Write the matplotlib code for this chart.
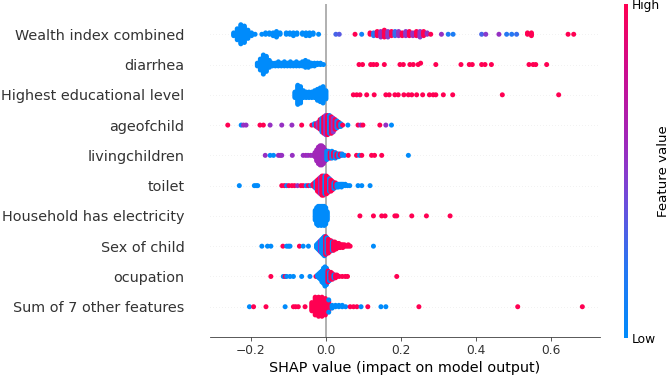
import numpy as np
import matplotlib
matplotlib.use("Agg")
import matplotlib.pyplot as plt
from matplotlib.colors import LinearSegmentedColormap

# feature names, top to bottom
features = ["Wealth index combined", "diarrhea", "Highest educational level",
            "ageofchild", "livingchildren", "toilet", "Household has electricity",
            "Sex of child", "ocupation", "Sum of 7 other features"]

# each feature: shap value, how many samples sit there, feature level (0 low .. 1 high)
wealth_shap = [-0.245, -0.2355, -0.226, -0.2165, -0.207, -0.1975, -0.188,
               -0.170, -0.160, -0.150, -0.140, -0.131, -0.1215,
               -0.105, -0.0955, -0.086, -0.0765,
               -0.062, -0.0525, -0.043, -0.0335, -0.019,
               0.027, 0.036, 0.078, 0.0957,
               0.118, 0.1275, 0.137, 0.1465, 0.156, 0.1655, 0.175, 0.1845, 0.194, 0.2035,
               0.213, 0.2225, 0.232, 0.2415, 0.251, 0.2605, 0.270, 0.2795,
               0.308, 0.326, 0.339, 0.415, 0.426, 0.461, 0.4815, 0.495, 0.508,
               0.537, 0.5475, 0.645, 0.660]
wealth_count = [3, 9, 15, 13, 7, 3, 1,
                1, 2, 2, 3, 5, 2,
                2, 2, 3, 2,
                2, 3, 3, 2, 1,
                1, 1, 1, 1,
                2, 3, 4, 5, 6, 5, 4, 4, 4, 3,
                4, 4, 3, 4, 5, 4, 2, 1,
                1, 1, 1, 1, 1, 1, 1, 1, 1,
                2, 3, 1, 1]
wealth_level = [0, 0, 0, 0, 0, 0, 0,
                0, 0, 0, 0, 0, 0,
                0, 0, 0, 0,
                0, 0, 0, 0, 0,
                0.3, 0.35, 1, 0.1,
                1, 0.2, 1, 0.55, 1, 0.5, 1, 0.25, 0.55, 1,
                0.5, 1, 0.55, 1, 0.5, 1, 0.55, 1,
                0.55, 0.15, 0.15, 0.3, 0.5, 0.55, 0.2, 0.2, 0.25,
                1, 1, 1, 1]

diarrhea_shap = [-0.182, -0.174, -0.166, -0.158, -0.150, -0.142, -0.134, -0.126,
                 -0.118, -0.110, -0.102, -0.094, -0.086, -0.078, -0.070, -0.062,
                 -0.054, -0.046, -0.038, -0.030, -0.022, -0.014, -0.006,
                 0.0886, 0.098, 0.1196, 0.127, 0.1356, 0.156, 0.1976, 0.2065,
                 0.224, 0.233, 0.246, 0.2526, 0.293, 0.36, 0.382, 0.39,
                 0.415, 0.424, 0.441, 0.541, 0.552, 0.559, 0.588]
diarrhea_count = [3, 9, 15, 12, 6, 3, 3, 4,
                  3, 4, 3, 4, 3, 4, 3, 4,
                  6, 5, 3, 3, 2, 2, 1] + [1] * 23
diarrhea_level = [0] * 23 + [1] * 23

educ_shap = [-0.082, -0.0745, -0.067, -0.0595, -0.052, -0.0445, -0.037, -0.0295,
             -0.022, -0.0145, -0.007, 0.0005,
             0.0735, 0.0824, 0.0912, 0.109, 0.129, 0.160, 0.169, 0.184, 0.193,
             0.208, 0.220, 0.229, 0.242, 0.258, 0.276, 0.286, 0.293, 0.313,
             0.338, 0.470, 0.620]
educ_count = [5, 15, 13, 6, 5, 5, 5, 6, 9, 11, 13, 7] + [1] * 21
educ_level = [0] * 12 + [1] * 21

age_shap = [-0.2607, -0.225, -0.219, -0.212, -0.175, -0.166, -0.148, -0.117,
            -0.090, -0.064, -0.037,
            -0.030, -0.025, -0.020, -0.015, -0.010, -0.005, 0.000, 0.005,
            0.010, 0.015, 0.020, 0.025, 0.030, 0.035, 0.040, 0.045,
            0.059, 0.086, 0.093, 0.099, 0.144, 0.160, 0.175]
age_count = [1] * 11 + [2, 3, 5, 8, 11, 13, 15, 15,
                        14, 13, 11, 8, 6, 4, 3, 1] + [1] * 7
age_level = [1, 0, 0.55, 0.55, 1, 1, 0.55, 0.55,
             0.55, 1, 1,
             0, 1, 0.5, 1, 0.1, 1, 0.5, 1,
             0.1, 1, 0.5, 1, 0.1, 1, 0, 1,
             0, 1, 0.55, 1, 1, 0.55, 0]

living_shap = [-0.161, -0.148, -0.139, -0.126, -0.121, -0.117, -0.089,
               -0.060, -0.053, -0.047, -0.040, -0.034,
               -0.0285, -0.024, -0.0195, -0.015, -0.0105, -0.006, -0.0015,
               0.003, 0.0075, 0.012, 0.0165, 0.021, 0.0255, 0.030, 0.0345,
               0.039, 0.0435, 0.050, 0.060,
               0.082, 0.090, 0.096, 0.122, 0.130, 0.149, 0.220]
living_count = [1] * 12 + [4, 9, 13, 15, 15, 13, 9,
                           7, 6, 5, 6, 4, 5, 3, 3, 2, 2, 1, 1] + [1] * 7
living_level = [0.55, 0, 0, 0.55, 0.6, 0.55, 0.55,
                0.55, 0.6, 0.55, 0.6, 0.55,
                0.6, 0.6, 0.6, 0.6, 0.6, 0.6, 0.6,
                0, 0.1, 1, 0, 1, 0, 1, 0,
                1, 0.1, 0, 1,
                1, 0, 1, 1, 1, 1, 0]

toilet_shap = [-0.230, -0.190, -0.185, -0.181,
               -0.117, -0.110, -0.104, -0.098, -0.090, -0.083, -0.075, -0.066,
               -0.060, -0.052, -0.046, -0.040,
               -0.034, -0.030, -0.026, -0.022, -0.018, -0.014, -0.010, -0.006,
               -0.002, 0.002, 0.006, 0.010, 0.014, 0.018, 0.022, 0.026, 0.030,
               0.034, 0.038, 0.042, 0.046, 0.052, 0.058, 0.064,
               0.086, 0.096, 0.118]
toilet_count = [1] * 16 + [2, 4, 6, 9, 11, 13, 15, 15,
                           14, 14, 12, 10, 9, 7, 5, 4, 3,
                           3, 2, 3, 2, 2, 1, 1] + [1] * 3
toilet_level = [0, 0, 0, 0,
                1, 1, 0, 1, 1, 1, 0.55, 1,
                1, 0, 1, 0,
                1, 1, 0, 1, 1, 0.55, 1, 1,
                0, 1, 1, 0.1, 1, 1, 0, 1, 0,
                0, 0, 0, 0, 0, 0, 0,
                0, 0, 0]

elec_shap = [-0.028, -0.024, -0.020, -0.016, -0.012, -0.008, -0.004, 0.000, 0.004,
             0.091, 0.127, 0.149, 0.158, 0.184, 0.189, 0.229, 0.268, 0.331]
elec_count = [8, 13, 15, 14, 15, 14, 15, 13, 7] + [1] * 9
elec_level = [0] * 9 + [1] * 9

sex_shap = [-0.170, -0.155, -0.146, -0.114, -0.104, -0.099, -0.095, -0.070,
            -0.060, -0.046,
            -0.0245, -0.021, -0.0175, -0.014, -0.0105, -0.007, -0.0035, 0.000,
            0.0035, 0.007, 0.0105, 0.014, 0.0175, 0.021, 0.0245, 0.028, 0.0315,
            0.035, 0.0385, 0.042, 0.0455, 0.050, 0.055, 0.060, 0.065,
            0.127]
sex_count = [1] * 10 + [3, 5, 7, 9, 11, 13, 15, 14,
                        12, 11, 9, 8, 7, 7, 6, 5, 4,
                        4, 3, 2, 3, 2, 1, 2, 1] + [1]
sex_level = [0, 0, 0, 1, 0, 0, 0, 1,
             0, 0,
             0, 0, 0, 0.55, 0, 0, 0, 1,
             0, 1, 1, 1, 0, 1, 1, 1, 1,
             1, 1, 1, 1, 1, 1, 1, 1,
             0]

occup_shap = [-0.146, -0.113, -0.108, -0.104, -0.095, -0.086, -0.064, -0.042,
              -0.026,
              -0.022, -0.018, -0.014, -0.010, -0.006, -0.002, 0.002, 0.006,
              0.010, 0.014, 0.018, 0.022, 0.026, 0.030, 0.036, 0.044, 0.052,
              0.058, 0.189]
occup_count = [1] * 9 + [2, 4, 6, 9, 12, 15, 13, 9,
                         7, 6, 5, 3, 3, 2, 1, 1, 1, 1] + [1]
occup_level = [1, 0, 1, 0, 0, 0, 0, 0,
               1,
               0, 0, 0, 0, 0, 0, 0, 1,
               0, 1, 1, 0, 1, 1, 1, 1, 1,
               1, 1]

other_shap = [-0.203, -0.192, -0.159, -0.108, -0.086, -0.080, -0.073, -0.055,
              -0.037, -0.028, -0.019, -0.010, -0.001, 0.008, 0.008,
              0.017, 0.026, 0.035, 0.044, 0.053,
              0.065, 0.074, 0.083, 0.094, 0.112, 0.147, 0.160,
              0.248, 0.511, 0.683]
other_count = [1] * 8 + [7, 14, 15, 15, 13, 8, 2,
                         3, 2, 2, 2, 1] + [1] * 10
other_level = [0, 1, 1, 0, 1, 1, 1, 1,
               1, 1, 1, 1, 1, 1, 0,
               0, 0, 0, 0, 0,
               1, 1, 1, 0, 1, 0, 0,
               1, 1, 1]

rows = [(wealth_shap, wealth_count, wealth_level),
        (diarrhea_shap, diarrhea_count, diarrhea_level),
        (educ_shap, educ_count, educ_level),
        (age_shap, age_count, age_level),
        (living_shap, living_count, living_level),
        (toilet_shap, toilet_count, toilet_level),
        (elec_shap, elec_count, elec_level),
        (sex_shap, sex_count, sex_level),
        (occup_shap, occup_count, occup_level),
        (other_shap, other_count, other_level)]

# shap style red-blue colormap (approx)
red_blue = LinearSegmentedColormap.from_list(
    "red_blue",
    [(0.0, "#008bfb"), (0.2, "#2478f3"), (0.4, "#6a4fdc"), (0.5, "#8a3acb"),
     (0.6, "#a126b8"), (0.8, "#cc0c8f"), (1.0, "#ff0052")])

axis_color = "#333333"
fs = 1.11  # text in the reference is a bit bigger than shap's 72dpi default


def swarm_offsets(vals, row_height=0.4, nbins=100):
    # same binning / layering that shap's beeswarm does
    vals = np.asarray(vals, dtype=float)
    quant = np.round(nbins * (vals - vals.min()) / (vals.max() - vals.min() + 1e-8))
    order = np.argsort(quant, kind="stable")
    ys = np.zeros(len(vals))
    layer = 0
    last_bin = -1
    for i in order:
        if quant[i] != last_bin:
            layer = 0
        ys[i] = np.ceil(layer / 2) * ((layer % 2) * 2 - 1)
        layer += 1
        last_bin = quant[i]
    ys *= 0.9 * (row_height / np.max(ys + 1))
    return ys


W, H = 669, 376
fig = plt.figure(figsize=(W / 72, H / 72), dpi=72)
ax = fig.add_axes([210 / W, 1 - 337 / H, 390 / W, 333 / H])

n = len(features)
ax.axvline(x=0, color="#999999", zorder=-1)

for i, (shap, cnt, lev) in enumerate(rows):
    pos = n - 1 - i
    ax.axhline(y=pos, color="#cccccc", lw=0.5, dashes=(1, 5), zorder=-1)
    vals = np.repeat(shap, cnt)
    levels = np.repeat(lev, cnt)
    ys = swarm_offsets(vals)
    ax.scatter(vals, pos + ys, c=levels, cmap=red_blue, vmin=0, vmax=1,
               s=25, linewidth=0, alpha=1, zorder=3)

ax.set_xlim(-0.308, 0.730)
ax.set_ylim(-1, n)
ax.set_yticks(range(n))
ax.set_yticklabels(features[::-1], fontsize=13 * fs)
ax.set_xticks([-0.2, 0.0, 0.2, 0.4, 0.6])
ax.xaxis.set_ticks_position("bottom")
ax.yaxis.set_ticks_position("none")
for s in ["right", "top", "left"]:
    ax.spines[s].set_visible(False)
ax.spines["bottom"].set_color(axis_color)
ax.tick_params(color=axis_color, labelcolor=axis_color)
ax.tick_params("y", length=22, width=0.5, which="major")
ax.tick_params("x", labelsize=11 * fs, length=3.8)
ax.set_xlabel("SHAP value (impact on model output)", fontsize=13 * fs)

# colorbar on the right
cax = fig.add_axes([624.3 / W, 1 - 338 / H, 4 / W, 334 / H])
sm = plt.cm.ScalarMappable(cmap=red_blue, norm=plt.Normalize(0, 1))
cb = fig.colorbar(sm, cax=cax, ticks=[0, 1])
cb.set_ticklabels(["Low", "High"])
cb.set_label("Feature value", size=12 * fs, labelpad=-3)
cb.ax.tick_params(labelsize=11 * fs, length=0)
cb.outline.set_visible(False)

fig.savefig("out.png", dpi=72)
